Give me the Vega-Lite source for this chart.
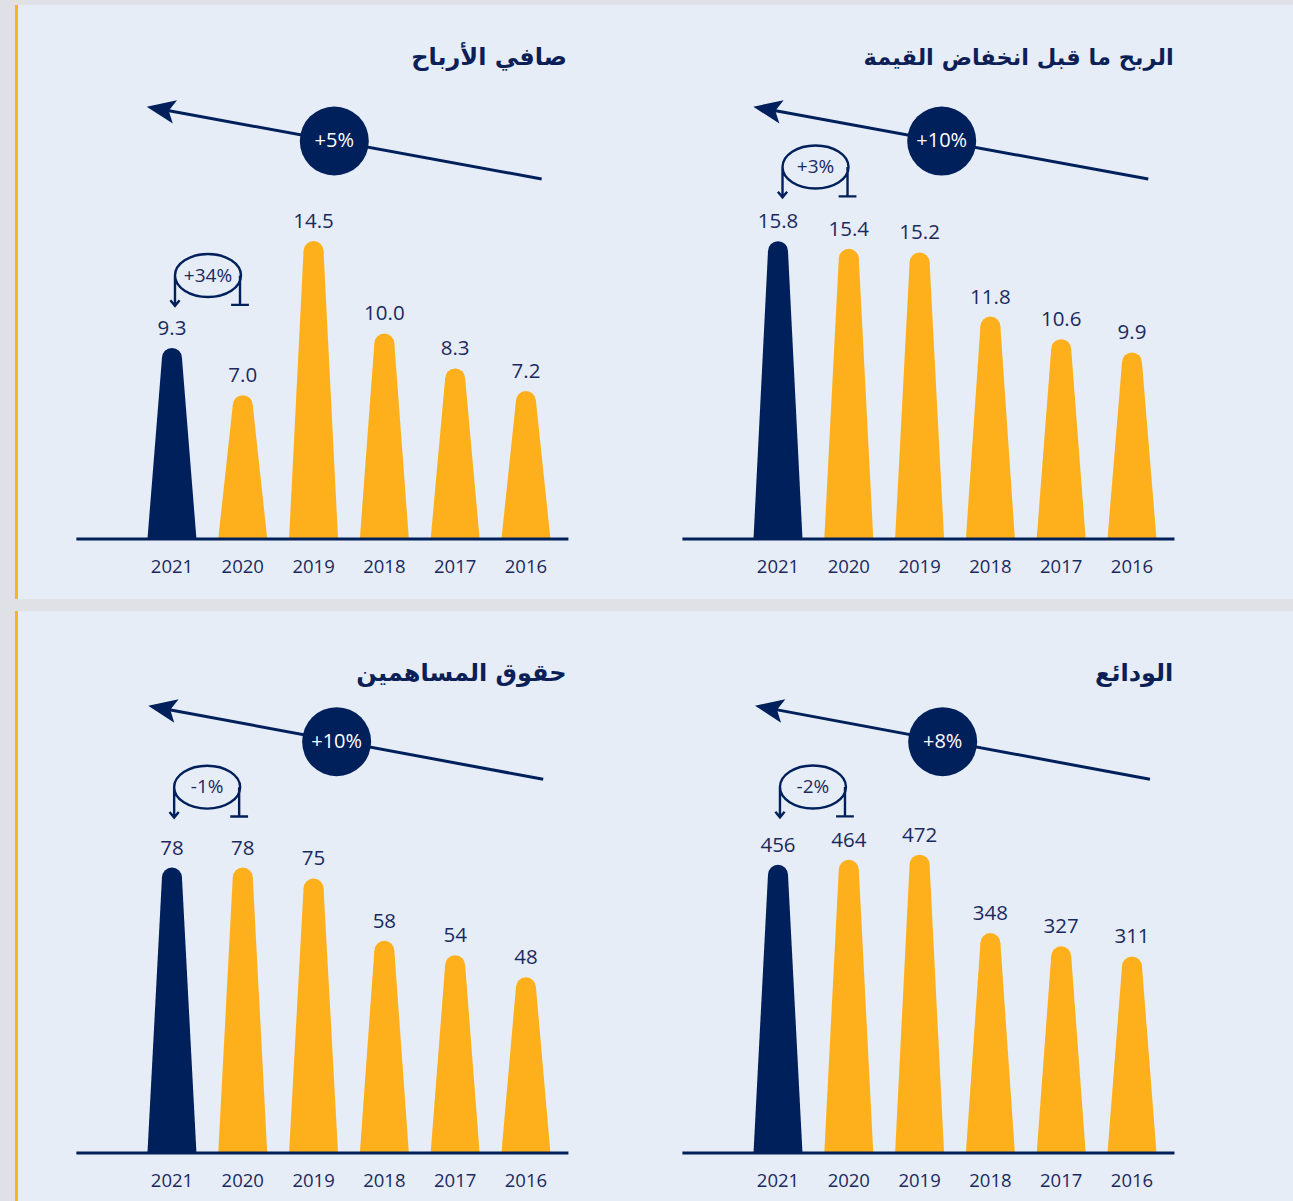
{
"$schema": "https://vega.github.io/schema/vega-lite/v6.json",
"background": "#dfe1e6",
"padding": {"left": 15, "top": 5, "right": 0, "bottom": 0},
"config": {"view": {"fill": "#e6edf7", "stroke": null}, "text": {"font": "Open Sans"}},
"datasets": {
 "tl": [{"year":2021,"value":9.3},{"year":2020,"value":7.0},{"year":2019,"value":14.5},{"year":2018,"value":10.0},{"year":2017,"value":8.3},{"year":2016,"value":7.2}],
 "tr": [{"year":2021,"value":15.8},{"year":2020,"value":15.4},{"year":2019,"value":15.2},{"year":2018,"value":11.8},{"year":2017,"value":10.6},{"year":2016,"value":9.9}],
 "bl": [{"year":2021,"value":78},{"year":2020,"value":78},{"year":2019,"value":75},{"year":2018,"value":58},{"year":2017,"value":54},{"year":2016,"value":48}],
 "br": [{"year":2021,"value":456},{"year":2020,"value":464},{"year":2019,"value":472},{"year":2018,"value":348},{"year":2017,"value":327},{"year":2016,"value":311}]
},
"spacing": 12,
"vconcat": [
{"hconcat": [
{
 "width": 609, "height": 594,
 "data": {"name": "tl"},
 "layer": [
  {"data": {"values": [{}]}, "mark": {"type": "rect", "color": "#f7b320", "opacity": 1},
   "encoding": {"x": {"datum": 2023.217, "type": "quantitative", "scale": {"domain": [2014.615, 2023.217], "reverse": true, "nice": false, "zero": false}, "axis": null},
                "x2": {"datum": 2023.175},
                "y": {"datum": -2.92, "type": "quantitative", "scale": {"domain": [-2.92, 25.985], "nice": false, "zero": false}, "axis": null},
                "y2": {"datum": 25.985}}},
  {"transform": [{"calculate": "datum.value - 0.4866", "as": "vtop"}, {"calculate": "0", "as": "vbase"}, {"fold": ["vbase", "vtop"], "as": ["end", "yv"]}, {"calculate": "datum.end == 'vbase' ? 0.346 : 0.1412", "as": "hw"}, {"calculate": "datum.year - datum.hw", "as": "xl"}, {"calculate": "datum.year + datum.hw", "as": "xr"}],
   "mark": {"type": "area", "orient": "horizontal", "opacity": 1},
   "encoding": {"y": {"field": "yv", "type": "quantitative", "scale": {"domain": [-2.92, 25.985], "nice": false, "zero": false}, "axis": null},
                "x": {"field": "xl", "type": "quantitative", "scale": {"domain": [2014.615, 2023.217], "reverse": true, "nice": false, "zero": false}, "axis": null, "stack": null},
                "x2": {"field": "xr"},
                "detail": {"field": "year", "type": "nominal"},
                "color": {"condition": {"test": "datum.year == 2021", "value": "#00205b"}, "value": "#fdb01b"}}},
  {"transform": [{"calculate": "datum.value - 0.4866", "as": "vtop"}],
   "mark": {"type": "circle", "size": 400, "opacity": 1},
   "encoding": {"x": {"field": "year", "type": "quantitative", "scale": {"domain": [2014.615, 2023.217], "reverse": true, "nice": false, "zero": false}, "axis": null},
                "y": {"field": "vtop", "type": "quantitative", "scale": {"domain": [-2.92, 25.985], "nice": false, "zero": false}, "axis": null},
                "color": {"condition": {"test": "datum.year == 2021", "value": "#00205b"}, "value": "#fdb01b"}}},
  {"data": {"values": [{}]}, "mark": {"type": "rule", "color": "#00205b", "strokeWidth": 3},
   "encoding": {"x": {"datum": 2022.35, "type": "quantitative", "scale": {"domain": [2014.615, 2023.217], "reverse": true, "nice": false, "zero": false}, "axis": null}, "x2": {"datum": 2015.40},
                "y": {"datum": 0, "type": "quantitative", "scale": {"domain": [-2.92, 25.985], "nice": false, "zero": false}, "axis": null}}},
  {"mark": {"type": "text", "dy": -19, "fontSize": 20.5, "font": "Open Sans", "color": "#1b2a5e"},
   "encoding": {"x": {"field": "year", "type": "quantitative", "scale": {"domain": [2014.615, 2023.217], "reverse": true, "nice": false, "zero": false}, "axis": null},
                "y": {"field": "value", "type": "quantitative", "scale": {"domain": [-2.92, 25.985], "nice": false, "zero": false}, "axis": null},
                "text": {"field": "value", "type": "quantitative", "format": ".1f"}}},
  {"mark": {"type": "text", "dy": 28, "fontSize": 18.5, "font": "Open Sans", "color": "#1b2a5e"},
   "encoding": {"x": {"field": "year", "type": "quantitative", "scale": {"domain": [2014.615, 2023.217], "reverse": true, "nice": false, "zero": false}, "axis": null},
                "y": {"datum": 0, "type": "quantitative", "scale": {"domain": [-2.92, 25.985], "nice": false, "zero": false}, "axis": null},
                "text": {"field": "year", "type": "nominal"}}},
  {"data": {"values": [{}]}, "mark": {"type": "rule", "color": "#00205b", "strokeWidth": 3},
   "encoding": {"x": {"datum": 2015.778, "type": "quantitative", "scale": {"domain": [2014.615, 2023.217], "reverse": true, "nice": false, "zero": false}, "axis": null},
                "y": {"datum": 17.518, "type": "quantitative", "scale": {"domain": [-2.92, 25.985], "nice": false, "zero": false}, "axis": null},
                "x2": {"datum": 2021.079}, "y2": {"datum": 20.861}}},
  {"data": {"values": [{}]}, "mark": {"type": "point", "shape": "M0,0L2.05,-0.85L1.6,0L2.05,0.85Z", "size": 784, "angle": 10.37, "filled": true, "color": "#00205b", "opacity": 1, "strokeWidth": 0},
   "encoding": {"x": {"datum": 2021.357, "type": "quantitative", "scale": {"domain": [2014.615, 2023.217], "reverse": true, "nice": false, "zero": false}, "axis": null},
                "y": {"datum": 21.036, "type": "quantitative", "scale": {"domain": [-2.92, 25.985], "nice": false, "zero": false}, "axis": null}}},
  {"data": {"values": [{}]}, "mark": {"type": "circle", "size": 4761, "color": "#00205b", "opacity": 1},
   "encoding": {"x": {"datum": 2018.707, "type": "quantitative", "scale": {"domain": [2014.615, 2023.217], "reverse": true, "nice": false, "zero": false}, "axis": null},
                "y": {"datum": 19.367, "type": "quantitative", "scale": {"domain": [-2.92, 25.985], "nice": false, "zero": false}, "axis": null}}},
  {"data": {"values": [{}]}, "mark": {"type": "text", "text": "+5%", "color": "#ffffff", "fontSize": 20, "font": "Open Sans"},
   "encoding": {"x": {"datum": 2018.707, "type": "quantitative", "scale": {"domain": [2014.615, 2023.217], "reverse": true, "nice": false, "zero": false}, "axis": null},
                "y": {"datum": 19.367, "type": "quantitative", "scale": {"domain": [-2.92, 25.985], "nice": false, "zero": false}, "axis": null}}},
  {"data": {"values": [{}]}, "mark": {"type": "point", "shape": "M-1,0A1,0.65,0,1,1,1,0A1,0.65,0,1,1,-1,0M-1,0L-1,0.92M-1.14,0.75L-1,0.92L-0.86,0.75M0.97,0L0.97,0.89M0.7,0.89L1.24,0.89", "size": 4356, "filled": false, "color": "#00205b", "strokeWidth": 2.4, "opacity": 1},
   "encoding": {"x": {"datum": 2020.491, "type": "quantitative", "scale": {"domain": [2014.615, 2023.217], "reverse": true, "nice": false, "zero": false}, "axis": null},
                "y": {"datum": 12.822, "type": "quantitative", "scale": {"domain": [-2.92, 25.985], "nice": false, "zero": false}, "axis": null}}},
  {"data": {"values": [{}]}, "mark": {"type": "text", "text": "+34%", "color": "#1b2a5e", "fontSize": 19, "font": "Open Sans"},
   "encoding": {"x": {"datum": 2020.491, "type": "quantitative", "scale": {"domain": [2014.615, 2023.217], "reverse": true, "nice": false, "zero": false}, "axis": null},
                "y": {"datum": 12.822, "type": "quantitative", "scale": {"domain": [-2.92, 25.985], "nice": false, "zero": false}, "axis": null}}},
  {"data": {"values": [{}]}, "mark": {"type": "text", "text": "صافي الأرباح", "align": "right", "color": "#0d1f57", "fontSize": 24, "font": "DejaVu Sans", "fontWeight": "bold"},
   "encoding": {"x": {"datum": 2015.421, "type": "quantitative", "scale": {"domain": [2014.615, 2023.217], "reverse": true, "nice": false, "zero": false}, "axis": null},
                "y": {"datum": 23.406, "type": "quantitative", "scale": {"domain": [-2.92, 25.985], "nice": false, "zero": false}, "axis": null}}}
 ]
},
{
 "width": 669, "height": 594,
 "data": {"name": "tr"},
 "layer": [
  {"transform": [{"calculate": "datum.value - 0.5305", "as": "vtop"}, {"calculate": "0", "as": "vbase"}, {"fold": ["vbase", "vtop"], "as": ["end", "yv"]}, {"calculate": "datum.end == 'vbase' ? 0.346 : 0.1412", "as": "hw"}, {"calculate": "datum.year - datum.hw", "as": "xl"}, {"calculate": "datum.year + datum.hw", "as": "xr"}],
   "mark": {"type": "area", "orient": "horizontal", "opacity": 1},
   "encoding": {"y": {"field": "yv", "type": "quantitative", "scale": {"domain": [-3.183, 28.329], "nice": false, "zero": false}, "axis": null},
                "x": {"field": "xl", "type": "quantitative", "scale": {"domain": [2013.726, 2023.175], "reverse": true, "nice": false, "zero": false}, "axis": null, "stack": null},
                "x2": {"field": "xr"},
                "detail": {"field": "year", "type": "nominal"},
                "color": {"condition": {"test": "datum.year == 2021", "value": "#00205b"}, "value": "#fdb01b"}}},
  {"transform": [{"calculate": "datum.value - 0.5305", "as": "vtop"}],
   "mark": {"type": "circle", "size": 400, "opacity": 1},
   "encoding": {"x": {"field": "year", "type": "quantitative", "scale": {"domain": [2013.726, 2023.175], "reverse": true, "nice": false, "zero": false}, "axis": null},
                "y": {"field": "vtop", "type": "quantitative", "scale": {"domain": [-3.183, 28.329], "nice": false, "zero": false}, "axis": null},
                "color": {"condition": {"test": "datum.year == 2021", "value": "#00205b"}, "value": "#fdb01b"}}},
  {"data": {"values": [{}]}, "mark": {"type": "rule", "color": "#00205b", "strokeWidth": 3},
   "encoding": {"x": {"datum": 2022.35, "type": "quantitative", "scale": {"domain": [2013.726, 2023.175], "reverse": true, "nice": false, "zero": false}, "axis": null}, "x2": {"datum": 2015.40},
                "y": {"datum": 0, "type": "quantitative", "scale": {"domain": [-3.183, 28.329], "nice": false, "zero": false}, "axis": null}}},
  {"mark": {"type": "text", "dy": -19, "fontSize": 20.5, "font": "Open Sans", "color": "#1b2a5e"},
   "encoding": {"x": {"field": "year", "type": "quantitative", "scale": {"domain": [2013.726, 2023.175], "reverse": true, "nice": false, "zero": false}, "axis": null},
                "y": {"field": "value", "type": "quantitative", "scale": {"domain": [-3.183, 28.329], "nice": false, "zero": false}, "axis": null},
                "text": {"field": "value", "type": "quantitative", "format": ".1f"}}},
  {"mark": {"type": "text", "dy": 28, "fontSize": 18.5, "font": "Open Sans", "color": "#1b2a5e"},
   "encoding": {"x": {"field": "year", "type": "quantitative", "scale": {"domain": [2013.726, 2023.175], "reverse": true, "nice": false, "zero": false}, "axis": null},
                "y": {"datum": 0, "type": "quantitative", "scale": {"domain": [-3.183, 28.329], "nice": false, "zero": false}, "axis": null},
                "text": {"field": "year", "type": "nominal"}}},
  {"data": {"values": [{}]}, "mark": {"type": "rule", "color": "#00205b", "strokeWidth": 3},
   "encoding": {"x": {"datum": 2015.770, "type": "quantitative", "scale": {"domain": [2013.726, 2023.175], "reverse": true, "nice": false, "zero": false}, "axis": null},
                "y": {"datum": 19.098, "type": "quantitative", "scale": {"domain": [-3.183, 28.329], "nice": false, "zero": false}, "axis": null},
                "x2": {"datum": 2021.071}, "y2": {"datum": 22.743}}},
  {"data": {"values": [{}]}, "mark": {"type": "point", "shape": "M0,0L2.05,-0.85L1.6,0L2.05,0.85Z", "size": 784, "angle": 10.37, "filled": true, "color": "#00205b", "opacity": 1, "strokeWidth": 0},
   "encoding": {"x": {"datum": 2021.349, "type": "quantitative", "scale": {"domain": [2013.726, 2023.175], "reverse": true, "nice": false, "zero": false}, "axis": null},
                "y": {"datum": 22.934, "type": "quantitative", "scale": {"domain": [-3.183, 28.329], "nice": false, "zero": false}, "axis": null}}},
  {"data": {"values": [{}]}, "mark": {"type": "circle", "size": 4761, "color": "#00205b", "opacity": 1},
   "encoding": {"x": {"datum": 2018.688, "type": "quantitative", "scale": {"domain": [2013.726, 2023.175], "reverse": true, "nice": false, "zero": false}, "axis": null},
                "y": {"datum": 21.114, "type": "quantitative", "scale": {"domain": [-3.183, 28.329], "nice": false, "zero": false}, "axis": null}}},
  {"data": {"values": [{}]}, "mark": {"type": "text", "text": "+10%", "color": "#ffffff", "fontSize": 20, "font": "Open Sans"},
   "encoding": {"x": {"datum": 2018.688, "type": "quantitative", "scale": {"domain": [2013.726, 2023.175], "reverse": true, "nice": false, "zero": false}, "axis": null},
                "y": {"datum": 21.114, "type": "quantitative", "scale": {"domain": [-3.183, 28.329], "nice": false, "zero": false}, "axis": null}}},
  {"data": {"values": [{}]}, "mark": {"type": "point", "shape": "M-1,0A1,0.65,0,1,1,1,0A1,0.65,0,1,1,-1,0M-1,0L-1,0.92M-1.14,0.75L-1,0.92L-0.86,0.75M0.97,0L0.97,0.89M0.7,0.89L1.24,0.89", "size": 4356, "filled": false, "color": "#00205b", "strokeWidth": 2.4, "opacity": 1},
   "encoding": {"x": {"datum": 2020.470, "type": "quantitative", "scale": {"domain": [2013.726, 2023.175], "reverse": true, "nice": false, "zero": false}, "axis": null},
                "y": {"datum": 19.735, "type": "quantitative", "scale": {"domain": [-3.183, 28.329], "nice": false, "zero": false}, "axis": null}}},
  {"data": {"values": [{}]}, "mark": {"type": "text", "text": "+3%", "color": "#1b2a5e", "fontSize": 19, "font": "Open Sans"},
   "encoding": {"x": {"datum": 2020.470, "type": "quantitative", "scale": {"domain": [2013.726, 2023.175], "reverse": true, "nice": false, "zero": false}, "axis": null},
                "y": {"datum": 19.735, "type": "quantitative", "scale": {"domain": [-3.183, 28.329], "nice": false, "zero": false}, "axis": null}}},
  {"data": {"values": [{}]}, "mark": {"type": "text", "text": "الربح ما قبل انخفاض القيمة", "align": "right", "color": "#0d1f57", "fontSize": 22.5, "font": "DejaVu Sans", "fontWeight": "bold"},
   "encoding": {"x": {"datum": 2015.412, "type": "quantitative", "scale": {"domain": [2013.726, 2023.175], "reverse": true, "nice": false, "zero": false}, "axis": null},
                "y": {"datum": 25.517, "type": "quantitative", "scale": {"domain": [-3.183, 28.329], "nice": false, "zero": false}, "axis": null}}}
 ]
}
], "spacing": 0},
{"hconcat": [
{
 "width": 609, "height": 590,
 "data": {"name": "bl"},
 "layer": [
  {"data": {"values": [{}]}, "mark": {"type": "rect", "color": "#f7b320", "opacity": 1},
   "encoding": {"x": {"datum": 2023.217, "type": "quantitative", "scale": {"domain": [2014.615, 2023.217], "reverse": true, "nice": false, "zero": false}, "axis": null},
                "x2": {"datum": 2023.175},
                "y": {"datum": -13.115, "type": "quantitative", "scale": {"domain": [-13.115, 148.087], "nice": false, "zero": false}, "axis": null},
                "y2": {"datum": 148.087}}},
  {"transform": [{"calculate": "datum.value - 2.732", "as": "vtop"}, {"calculate": "0", "as": "vbase"}, {"fold": ["vbase", "vtop"], "as": ["end", "yv"]}, {"calculate": "datum.end == 'vbase' ? 0.346 : 0.1412", "as": "hw"}, {"calculate": "datum.year - datum.hw", "as": "xl"}, {"calculate": "datum.year + datum.hw", "as": "xr"}],
   "mark": {"type": "area", "orient": "horizontal", "opacity": 1},
   "encoding": {"y": {"field": "yv", "type": "quantitative", "scale": {"domain": [-13.115, 148.087], "nice": false, "zero": false}, "axis": null},
                "x": {"field": "xl", "type": "quantitative", "scale": {"domain": [2014.615, 2023.217], "reverse": true, "nice": false, "zero": false}, "axis": null, "stack": null},
                "x2": {"field": "xr"},
                "detail": {"field": "year", "type": "nominal"},
                "color": {"condition": {"test": "datum.year == 2021", "value": "#00205b"}, "value": "#fdb01b"}}},
  {"transform": [{"calculate": "datum.value - 2.732", "as": "vtop"}],
   "mark": {"type": "circle", "size": 400, "opacity": 1},
   "encoding": {"x": {"field": "year", "type": "quantitative", "scale": {"domain": [2014.615, 2023.217], "reverse": true, "nice": false, "zero": false}, "axis": null},
                "y": {"field": "vtop", "type": "quantitative", "scale": {"domain": [-13.115, 148.087], "nice": false, "zero": false}, "axis": null},
                "color": {"condition": {"test": "datum.year == 2021", "value": "#00205b"}, "value": "#fdb01b"}}},
  {"data": {"values": [{}]}, "mark": {"type": "rule", "color": "#00205b", "strokeWidth": 3},
   "encoding": {"x": {"datum": 2022.35, "type": "quantitative", "scale": {"domain": [2014.615, 2023.217], "reverse": true, "nice": false, "zero": false}, "axis": null}, "x2": {"datum": 2015.40},
                "y": {"datum": 0, "type": "quantitative", "scale": {"domain": [-13.115, 148.087], "nice": false, "zero": false}, "axis": null}}},
  {"mark": {"type": "text", "dy": -19, "fontSize": 20.5, "font": "Open Sans", "color": "#1b2a5e"},
   "encoding": {"x": {"field": "year", "type": "quantitative", "scale": {"domain": [2014.615, 2023.217], "reverse": true, "nice": false, "zero": false}, "axis": null},
                "y": {"field": "value", "type": "quantitative", "scale": {"domain": [-13.115, 148.087], "nice": false, "zero": false}, "axis": null},
                "text": {"field": "value", "type": "quantitative", "format": "d"}}},
  {"mark": {"type": "text", "dy": 28, "fontSize": 18.5, "font": "Open Sans", "color": "#1b2a5e"},
   "encoding": {"x": {"field": "year", "type": "quantitative", "scale": {"domain": [2014.615, 2023.217], "reverse": true, "nice": false, "zero": false}, "axis": null},
                "y": {"datum": 0, "type": "quantitative", "scale": {"domain": [-13.115, 148.087], "nice": false, "zero": false}, "axis": null},
                "text": {"field": "year", "type": "nominal"}}},
  {"data": {"values": [{}]}, "mark": {"type": "rule", "color": "#00205b", "strokeWidth": 3},
   "encoding": {"x": {"datum": 2015.756, "type": "quantitative", "scale": {"domain": [2014.615, 2023.217], "reverse": true, "nice": false, "zero": false}, "axis": null},
                "y": {"datum": 102.10, "type": "quantitative", "scale": {"domain": [-13.115, 148.087], "nice": false, "zero": false}, "axis": null},
                "x2": {"datum": 2021.056}, "y2": {"datum": 121.20}}},
  {"data": {"values": [{}]}, "mark": {"type": "point", "shape": "M0,0L2.05,-0.85L1.6,0L2.05,0.85Z", "size": 784, "angle": 10.55, "filled": true, "color": "#00205b", "opacity": 1, "strokeWidth": 0},
   "encoding": {"x": {"datum": 2021.335, "type": "quantitative", "scale": {"domain": [2014.615, 2023.217], "reverse": true, "nice": false, "zero": false}, "axis": null},
                "y": {"datum": 122.21, "type": "quantitative", "scale": {"domain": [-13.115, 148.087], "nice": false, "zero": false}, "axis": null}}},
  {"data": {"values": [{}]}, "mark": {"type": "circle", "size": 4761, "color": "#00205b", "opacity": 1},
   "encoding": {"x": {"datum": 2018.674, "type": "quantitative", "scale": {"domain": [2014.615, 2023.217], "reverse": true, "nice": false, "zero": false}, "axis": null},
                "y": {"datum": 112.38, "type": "quantitative", "scale": {"domain": [-13.115, 148.087], "nice": false, "zero": false}, "axis": null}}},
  {"data": {"values": [{}]}, "mark": {"type": "text", "text": "+10%", "color": "#ffffff", "fontSize": 20, "font": "Open Sans"},
   "encoding": {"x": {"datum": 2018.674, "type": "quantitative", "scale": {"domain": [2014.615, 2023.217], "reverse": true, "nice": false, "zero": false}, "axis": null},
                "y": {"datum": 112.38, "type": "quantitative", "scale": {"domain": [-13.115, 148.087], "nice": false, "zero": false}, "axis": null}}},
  {"data": {"values": [{}]}, "mark": {"type": "point", "shape": "M-1,0A1,0.65,0,1,1,1,0A1,0.65,0,1,1,-1,0M-1,0L-1,0.92M-1.14,0.75L-1,0.92L-0.86,0.75M0.97,0L0.97,0.89M0.7,0.89L1.24,0.89", "size": 4356, "filled": false, "color": "#00205b", "strokeWidth": 2.4, "opacity": 1},
   "encoding": {"x": {"datum": 2020.503, "type": "quantitative", "scale": {"domain": [2014.615, 2023.217], "reverse": true, "nice": false, "zero": false}, "axis": null},
                "y": {"datum": 99.95, "type": "quantitative", "scale": {"domain": [-13.115, 148.087], "nice": false, "zero": false}, "axis": null}}},
  {"data": {"values": [{}]}, "mark": {"type": "text", "text": "-1%", "color": "#1b2a5e", "fontSize": 19, "font": "Open Sans"},
   "encoding": {"x": {"datum": 2020.503, "type": "quantitative", "scale": {"domain": [2014.615, 2023.217], "reverse": true, "nice": false, "zero": false}, "axis": null},
                "y": {"datum": 99.95, "type": "quantitative", "scale": {"domain": [-13.115, 148.087], "nice": false, "zero": false}, "axis": null}}},
  {"data": {"values": [{}]}, "mark": {"type": "text", "text": "حقوق المساهمين", "align": "right", "color": "#0d1f57", "fontSize": 24, "font": "DejaVu Sans", "fontWeight": "bold"},
   "encoding": {"x": {"datum": 2015.425, "type": "quantitative", "scale": {"domain": [2014.615, 2023.217], "reverse": true, "nice": false, "zero": false}, "axis": null},
                "y": {"datum": 130.87, "type": "quantitative", "scale": {"domain": [-13.115, 148.087], "nice": false, "zero": false}, "axis": null}}}
 ]
},
{
 "width": 669, "height": 590,
 "data": {"name": "br"},
 "layer": [
  {"transform": [{"calculate": "datum.value - 15.82", "as": "vtop"}, {"calculate": "0", "as": "vbase"}, {"fold": ["vbase", "vtop"], "as": ["end", "yv"]}, {"calculate": "datum.end == 'vbase' ? 0.346 : 0.1412", "as": "hw"}, {"calculate": "datum.year - datum.hw", "as": "xl"}, {"calculate": "datum.year + datum.hw", "as": "xr"}],
   "mark": {"type": "area", "orient": "horizontal", "opacity": 1},
   "encoding": {"y": {"field": "yv", "type": "quantitative", "scale": {"domain": [-75.949, 857.595], "nice": false, "zero": false}, "axis": null},
                "x": {"field": "xl", "type": "quantitative", "scale": {"domain": [2013.726, 2023.175], "reverse": true, "nice": false, "zero": false}, "axis": null, "stack": null},
                "x2": {"field": "xr"},
                "detail": {"field": "year", "type": "nominal"},
                "color": {"condition": {"test": "datum.year == 2021", "value": "#00205b"}, "value": "#fdb01b"}}},
  {"transform": [{"calculate": "datum.value - 15.82", "as": "vtop"}],
   "mark": {"type": "circle", "size": 400, "opacity": 1},
   "encoding": {"x": {"field": "year", "type": "quantitative", "scale": {"domain": [2013.726, 2023.175], "reverse": true, "nice": false, "zero": false}, "axis": null},
                "y": {"field": "vtop", "type": "quantitative", "scale": {"domain": [-75.949, 857.595], "nice": false, "zero": false}, "axis": null},
                "color": {"condition": {"test": "datum.year == 2021", "value": "#00205b"}, "value": "#fdb01b"}}},
  {"data": {"values": [{}]}, "mark": {"type": "rule", "color": "#00205b", "strokeWidth": 3},
   "encoding": {"x": {"datum": 2022.35, "type": "quantitative", "scale": {"domain": [2013.726, 2023.175], "reverse": true, "nice": false, "zero": false}, "axis": null}, "x2": {"datum": 2015.40},
                "y": {"datum": 0, "type": "quantitative", "scale": {"domain": [-75.949, 857.595], "nice": false, "zero": false}, "axis": null}}},
  {"mark": {"type": "text", "dy": -19, "fontSize": 20.5, "font": "Open Sans", "color": "#1b2a5e"},
   "encoding": {"x": {"field": "year", "type": "quantitative", "scale": {"domain": [2013.726, 2023.175], "reverse": true, "nice": false, "zero": false}, "axis": null},
                "y": {"field": "value", "type": "quantitative", "scale": {"domain": [-75.949, 857.595], "nice": false, "zero": false}, "axis": null},
                "text": {"field": "value", "type": "quantitative", "format": "d"}}},
  {"mark": {"type": "text", "dy": 28, "fontSize": 18.5, "font": "Open Sans", "color": "#1b2a5e"},
   "encoding": {"x": {"field": "year", "type": "quantitative", "scale": {"domain": [2013.726, 2023.175], "reverse": true, "nice": false, "zero": false}, "axis": null},
                "y": {"datum": 0, "type": "quantitative", "scale": {"domain": [-75.949, 857.595], "nice": false, "zero": false}, "axis": null},
                "text": {"field": "year", "type": "nominal"}}},
  {"data": {"values": [{}]}, "mark": {"type": "rule", "color": "#00205b", "strokeWidth": 3},
   "encoding": {"x": {"datum": 2015.746, "type": "quantitative", "scale": {"domain": [2013.726, 2023.175], "reverse": true, "nice": false, "zero": false}, "axis": null},
                "y": {"datum": 591.3, "type": "quantitative", "scale": {"domain": [-75.949, 857.595], "nice": false, "zero": false}, "axis": null},
                "x2": {"datum": 2021.047}, "y2": {"datum": 701.9}}},
  {"data": {"values": [{}]}, "mark": {"type": "point", "shape": "M0,0L2.05,-0.85L1.6,0L2.05,0.85Z", "size": 784, "angle": 10.55, "filled": true, "color": "#00205b", "opacity": 1, "strokeWidth": 0},
   "encoding": {"x": {"datum": 2021.325, "type": "quantitative", "scale": {"domain": [2013.726, 2023.175], "reverse": true, "nice": false, "zero": false}, "axis": null},
                "y": {"datum": 707.75, "type": "quantitative", "scale": {"domain": [-75.949, 857.595], "nice": false, "zero": false}, "axis": null}}},
  {"data": {"values": [{}]}, "mark": {"type": "circle", "size": 4761, "color": "#00205b", "opacity": 1},
   "encoding": {"x": {"datum": 2018.674, "type": "quantitative", "scale": {"domain": [2013.726, 2023.175], "reverse": true, "nice": false, "zero": false}, "axis": null},
                "y": {"datum": 650.8, "type": "quantitative", "scale": {"domain": [-75.949, 857.595], "nice": false, "zero": false}, "axis": null}}},
  {"data": {"values": [{}]}, "mark": {"type": "text", "text": "+8%", "color": "#ffffff", "fontSize": 20, "font": "Open Sans"},
   "encoding": {"x": {"datum": 2018.674, "type": "quantitative", "scale": {"domain": [2013.726, 2023.175], "reverse": true, "nice": false, "zero": false}, "axis": null},
                "y": {"datum": 650.8, "type": "quantitative", "scale": {"domain": [-75.949, 857.595], "nice": false, "zero": false}, "axis": null}}},
  {"data": {"values": [{}]}, "mark": {"type": "point", "shape": "M-1,0A1,0.65,0,1,1,1,0A1,0.65,0,1,1,-1,0M-1,0L-1,0.92M-1.14,0.75L-1,0.92L-0.86,0.75M0.97,0L0.97,0.89M0.7,0.89L1.24,0.89", "size": 4356, "filled": false, "color": "#00205b", "strokeWidth": 2.4, "opacity": 1},
   "encoding": {"x": {"datum": 2020.506, "type": "quantitative", "scale": {"domain": [2013.726, 2023.175], "reverse": true, "nice": false, "zero": false}, "axis": null},
                "y": {"datum": 579.1, "type": "quantitative", "scale": {"domain": [-75.949, 857.595], "nice": false, "zero": false}, "axis": null}}},
  {"data": {"values": [{}]}, "mark": {"type": "text", "text": "-2%", "color": "#1b2a5e", "fontSize": 19, "font": "Open Sans"},
   "encoding": {"x": {"datum": 2020.506, "type": "quantitative", "scale": {"domain": [2013.726, 2023.175], "reverse": true, "nice": false, "zero": false}, "axis": null},
                "y": {"datum": 579.1, "type": "quantitative", "scale": {"domain": [-75.949, 857.595], "nice": false, "zero": false}, "axis": null}}},
  {"data": {"values": [{}]}, "mark": {"type": "text", "text": "الودائع", "align": "right", "color": "#0d1f57", "fontSize": 24, "font": "DejaVu Sans", "fontWeight": "bold"},
   "encoding": {"x": {"datum": 2015.417, "type": "quantitative", "scale": {"domain": [2013.726, 2023.175], "reverse": true, "nice": false, "zero": false}, "axis": null},
                "y": {"datum": 757.9, "type": "quantitative", "scale": {"domain": [-75.949, 857.595], "nice": false, "zero": false}, "axis": null}}}
 ]
}
], "spacing": 0}
]
}
